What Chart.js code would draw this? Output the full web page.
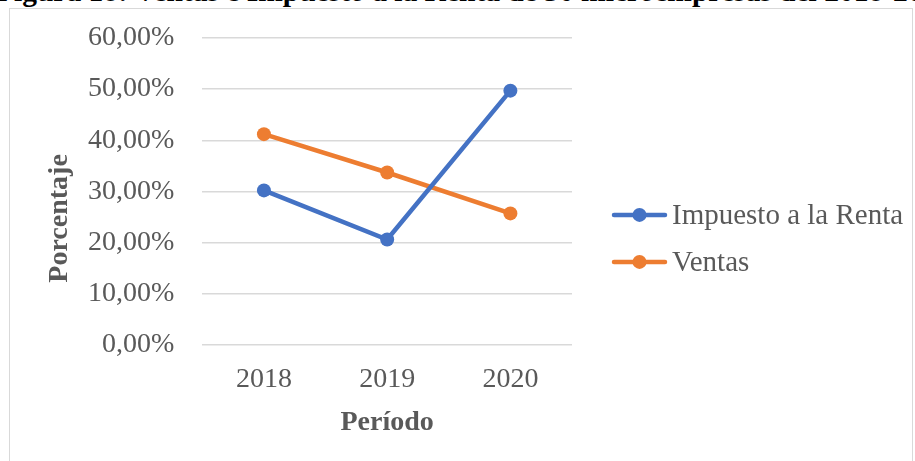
<!DOCTYPE html>
<html>
<head>
<meta charset="utf-8">
<script src="https://cdn.jsdelivr.net/npm/chart.js@4.4.1/dist/chart.umd.min.js"></script>
<style>
  html, body { margin: 0; padding: 0; background: #fff; overflow: hidden; }
  body { width: 915px; height: 461px; position: relative; }
  #title {
    position: absolute; left: -4px; top: -25px; white-space: nowrap;
    font: bold 29.5px "Liberation Serif", "Times New Roman", serif; color: #000;
  }
  #frame {
    position: absolute; left: 9px; top: 8px; width: 904px; height: 470px;
    border: 1px solid #d9d9d9; box-sizing: border-box;
  }
  #wrap { position: absolute; left: 0; top: 0; width: 915px; height: 461px; }
</style>
</head>
<body>
<div id="title">Figura 18: Ventas e Impuesto a la Renta de 30 microempresas del 2018-2020</div>
<div id="frame"></div>
<div id="wrap"><canvas id="chart"></canvas></div>
<script>
const years = ['2018', '2019', '2020'];
const impuestoRenta = [0.302, 0.206, 0.497];
const ventas = [0.412, 0.337, 0.257];
const seriesNames = ['Impuesto a la Renta', 'Ventas'];
const seriesColors = ['#4472C4', '#ED7D31'];

const FONT = '"Liberation Serif", "Times New Roman", serif';
const GREY = '#595959';

// Excel-like legend: short line with a dot, then the series name
const sideLegend = {
  id: 'sideLegend',
  afterDraw: (chart) => {
    const {ctx, chartArea} = chart;
    const x0 = chartArea.right + 40;
    const yMid = (chartArea.top + chartArea.bottom) / 2 + 47;
    ctx.save();
    ctx.font = `29px ${FONT}`;
    ctx.textBaseline = 'middle';
    seriesNames.forEach((name, i) => {
      const y = yMid + (i - 0.5) * 47;
      const color = seriesColors[i];
      ctx.strokeStyle = color;
      ctx.lineWidth = 4.5;
      ctx.lineCap = 'round';
      ctx.beginPath();
      ctx.moveTo(x0 + 2, y);
      ctx.lineTo(x0 + 53, y);
      ctx.stroke();
      ctx.fillStyle = color;
      ctx.beginPath();
      ctx.arc(x0 + 27.5, y, 7, 0, Math.PI * 2);
      ctx.fill();
      ctx.fillStyle = GREY;
      ctx.fillText(name, x0 + 60, y + 1);
    });
    ctx.restore();
  }
};

const yTitle = {
  id: 'yTitle',
  afterDraw: (chart) => {
    const {ctx, chartArea} = chart;
    ctx.save();
    ctx.translate(chartArea.left - 143, (chartArea.top + chartArea.bottom) / 2 + 27);
    ctx.rotate(-Math.PI / 2);
    ctx.font = `bold 28px ${FONT}`;
    ctx.fillStyle = GREY;
    ctx.textAlign = 'center';
    ctx.textBaseline = 'middle';
    ctx.fillText('Porcentaje', 0, 0);
    ctx.restore();
  }
};

new Chart(document.getElementById('chart'), {
  type: 'line',
  data: {
    labels: years,
    datasets: [impuestoRenta, ventas].map((values, i) => ({
      label: seriesNames[i],
      data: values,
      borderColor: seriesColors[i],
      backgroundColor: seriesColors[i],
      borderWidth: 4.5,
      pointRadius: 7,
      pointHoverRadius: 7,
      pointBorderWidth: 0,
      tension: 0
    }))
  },
  options: {
    responsive: true,
    maintainAspectRatio: false,
    animation: false,
    layout: { padding: { left: 60, top: 38, right: 343, bottom: 21 } },
    plugins: {
      tooltip: { enabled: false },
      legend: { display: false }
    },
    scales: {
      x: {
        offset: true,
        grid: { display: false, drawTicks: false },
        border: { display: false },
        ticks: { color: GREY, font: { family: FONT, size: 28 }, padding: 18 },
        title: {
          display: true,
          text: 'Período',
          color: GREY,
          font: { family: FONT, size: 28, weight: 'bold' },
          padding: { top: -8, bottom: 0 }
        }
      },
      y: {
        min: 0,
        max: 0.6,
        // tick padding would otherwise push the plot top down
        afterFit: (scale) => { scale.paddingTop = 0; },
        grid: { color: '#d9d9d9', lineWidth: 1.5, drawTicks: false },
        border: { display: false },
        ticks: {
          stepSize: 0.1,
          color: GREY,
          font: { family: FONT, size: 28 },
          padding: 28,
          callback: (v) => (v * 100).toFixed(2).replace('.', ',') + '%'
        }
      }
    }
  },
  plugins: [yTitle, sideLegend]
});
</script>
</body>
</html>
